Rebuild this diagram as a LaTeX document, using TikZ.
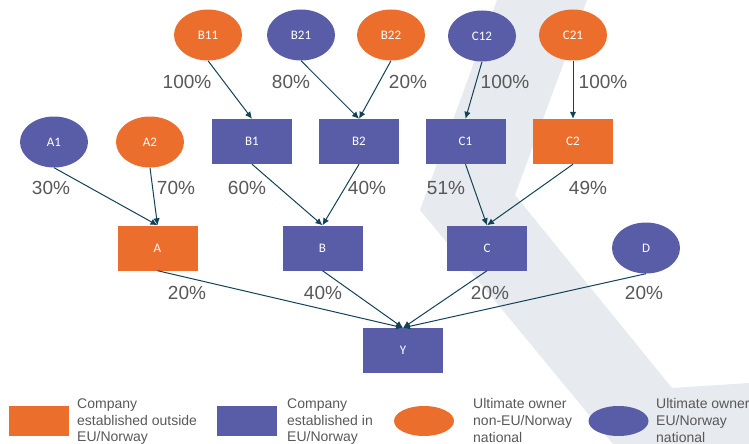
\documentclass[tikz,border=0pt]{standalone}
\usepackage{fontspec}
\setmainfont{Liberation Sans}
\newfontfamily\boxfont{Carlito}
\usetikzlibrary{shapes.geometric,arrows.meta}

\definecolor{orangeco}{RGB}{235,110,45}
\definecolor{purpleco}{RGB}{89,93,167}
\definecolor{edgeteal}{RGB}{18,66,86}
\definecolor{pctgray}{RGB}{88,88,88}
\definecolor{bandgray}{RGB}{231,234,238}

\tikzstyle{firm} = [rectangle, draw=none, text=white, minimum width=80pt, minimum height=45pt, inner sep=0pt, font=\boxfont\fontsize{13}{15}\selectfont]
\tikzstyle{owner} = [ellipse, draw=none, text=white, minimum width=68pt, minimum height=51pt, inner sep=0pt, font=\boxfont\fontsize{13}{15}\selectfont]
\tikzstyle{outside} = [firm, fill=orangeco]
\tikzstyle{inside} = [firm, fill=purpleco]
\tikzstyle{nonown} = [owner, fill=orangeco]
\tikzstyle{euown} = [owner, fill=purpleco]
\tikzstyle{share} = [draw=none, fill=none, text=pctgray, inner sep=0pt, font=\fontsize{19}{22}\selectfont]
\tikzstyle{keybox} = [draw=none, inner sep=0pt, minimum width=60pt, minimum height=30pt]
\tikzstyle{keytext} = [draw=none, fill=none, text=pctgray, inner sep=0pt, anchor=north west, align=left, font=\fontsize{14}{16.7}\selectfont]

\begin{document}
\begin{tikzpicture}[x=1pt, y=-1pt, own/.style={draw=edgeteal, line width=1pt, -{Latex[length=7pt,width=6.5pt]}}]
    \useasboundingbox (0,0) rectangle (749,444);
    % background band
    \fill[bandgray] (497,0) -- (587,0) -- (515,195) -- (672,388) -- (749,383)
        -- (749,444) -- (613,444) -- (420,210) -- cycle;

    % companies and owners
    \node[inside] (y) at (403,350.5) {Y};

    \node[outside] (a) at (157.5,248) {A};
    \node[inside] (b) at (322.5,248) {B};
    \node[inside] (c) at (487,248) {C};
    \node[euown] (d) at (646,248) {D};

    \node[euown] (a1) at (54,142) {A1};
    \node[nonown] (a2) at (150,142) {A2};
    \node[inside] (b1) at (252,141.5) {B1};
    \node[inside] (b2) at (359,141.5) {B2};
    \node[inside] (c1) at (465.5,141.5) {C1};
    \node[outside] (c2) at (573,141.5) {C2};

    \node[nonown] (b11) at (208,35) {B11};
    \node[euown] (b21) at (301,35) {B21};
    \node[nonown] (b22) at (391,35) {B22};
    \node[euown] (c12) at (482,36) {C12};
    \node[nonown] (c21) at (573,35) {C21};

    % ownership links
    \draw[own] (b11.south) -- (b1.north);
    \draw[own] (b21.south) -- (b2.north);
    \draw[own] (b22.south) -- (b2.north);
    \draw[own] (c12.south) -- (c1.north);
    \draw[own] (c21.south) -- (c2.north);
    \draw[own] (a1.south) -- (a.north);
    \draw[own] (a2.south) -- (a.north);
    \draw[own] (b1.south) -- (b.north);
    \draw[own] (b2.south) -- (b.north);
    \draw[own] (c1.south) -- (c.north);
    \draw[own] (c2.south) -- (c.north);
    \draw[own] (a.south) -- (y.north);
    \draw[own] (b.south) -- (y.north);
    \draw[own] (c.south) -- (y.north);
    \draw[own] (d.south) -- (y.north);

    % shares
    \node[share] (pb11) at (187,82) {100\%};
    \node[share] (pb21) at (291,82) {80\%};
    \node[share] (pb22) at (408,82) {20\%};
    \node[share] (pc12) at (505,82) {100\%};
    \node[share] (pc21) at (603,82) {100\%};
    \node[share] (pa1) at (51,188) {30\%};
    \node[share] (pa2) at (176,188) {70\%};
    \node[share] (pb1) at (247,188) {60\%};
    \node[share] (pb2) at (367,188) {40\%};
    \node[share] (pc1) at (446,188) {51\%};
    \node[share] (pc2) at (588,188) {49\%};
    \node[share] (pa) at (187,293) {20\%};
    \node[share] (pb) at (323,293) {40\%};
    \node[share] (pc) at (490,293) {20\%};
    \node[share] (pd) at (644,293) {20\%};

    % legend
    \node[keybox, rectangle, fill=orangeco] (keyout) at (39,421) {};
    \node[keytext] (keyouttext) at (77,398.6) {Company\\established outside\\EU/Norway};
    \node[keybox, rectangle, fill=purpleco] (keyin) at (247,421) {};
    \node[keytext] (keyintext) at (287,398.6) {Company\\established in\\EU/Norway};
    \node[keybox, ellipse, fill=orangeco] (keynon) at (424,421) {};
    \node[keytext] (keynontext) at (473,398.6) {Ultimate owner\\non-EU/Norway\\national};
    \node[keybox, ellipse, fill=purpleco] (keyeu) at (618.5,421) {};
    \node[keytext] (keyeutext) at (656,398.6) {Ultimate owner\\EU/Norway\\national};
\end{tikzpicture}
\end{document}
